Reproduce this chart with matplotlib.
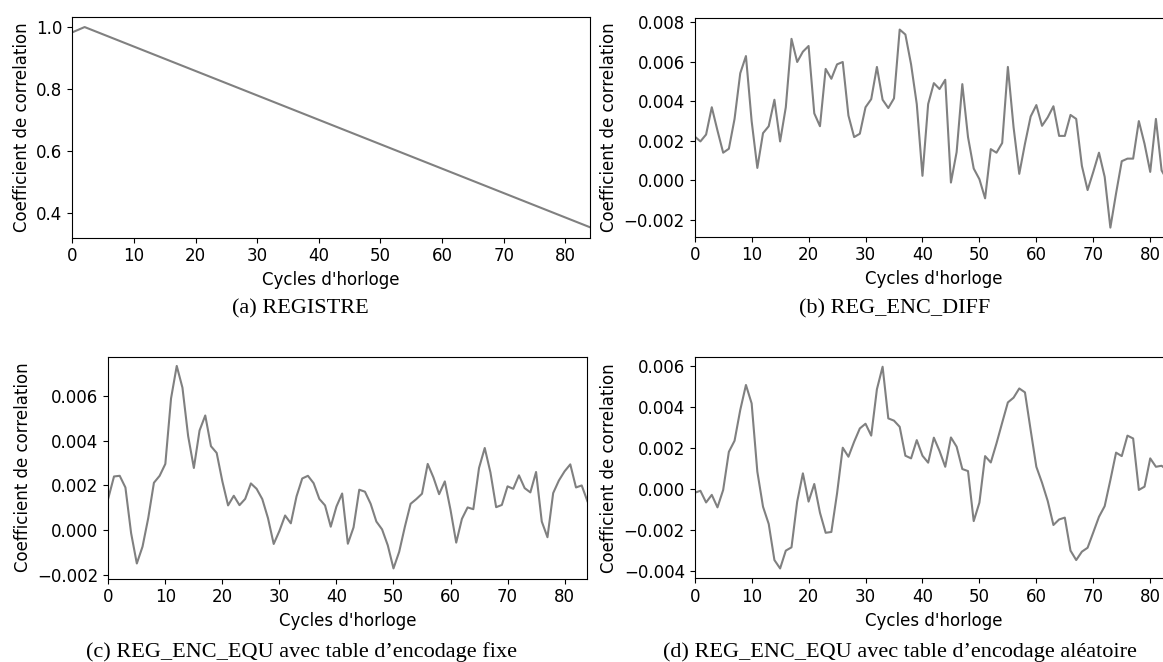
import matplotlib
matplotlib.use("Agg")
import matplotlib.pyplot as plt

plt.rcParams['font.family'] = 'DejaVu Sans'

# ---------------- data ----------------
cycles_a = [0, 2, 84]
corr_a = [0.983, 1.0, 0.355]

corr_b = [0.00222, 0.00197, 0.00232, 0.0037, 0.00252, 0.0014, 0.0016, 0.00311, 0.00542, 0.00629,
          0.0030, 0.00063, 0.00239, 0.00274, 0.00408, 0.00197, 0.0037, 0.00716, 0.00599, 0.00651,
          0.0068, 0.00339, 0.00274, 0.00564, 0.00514, 0.00587, 0.00599, 0.00328, 0.00219, 0.00236,
          0.0037, 0.00411, 0.00574, 0.00408, 0.00366, 0.00415, 0.00763, 0.00738, 0.00587, 0.00386,
          0.00023, 0.00386, 0.00492, 0.00462, 0.00509, -0.00011, 0.00143, 0.00487, 0.00219, 0.0006,
          0.00006, -0.00091, 0.00158, 0.0014, 0.00189, 0.00574, 0.00269, 0.00033, 0.00185, 0.00323,
          0.00381, 0.00276, 0.00319, 0.00375, 0.00225, 0.00225, 0.00331, 0.00311, 0.00073, -0.00049,
          0.00043, 0.0014, 0.00018, -0.00239, -0.00066, 0.00097, 0.0011, 0.0011, 0.0030, 0.00185,
          0.00043, 0.00311, 0.0005, 0.0000, 0.0008]

corr_c = [0.00143, 0.0024, 0.00243, 0.00191, -0.00013, -0.00148, -0.00073, 0.00054, 0.00212, 0.00243,
          0.00296, 0.00588, 0.00733, 0.00636, 0.0042, 0.00278, 0.00445, 0.00512, 0.00375, 0.00345,
          0.00218, 0.00111, 0.00154, 0.00112, 0.0014, 0.00209, 0.00185, 0.00139, 0.00054, -0.00061,
          -0.00003, 0.00066, 0.00031, 0.00151, 0.00231, 0.00243, 0.0021, 0.0014, 0.00111, 0.00016,
          0.00106, 0.00164, -0.0006, 0.00013, 0.00181, 0.00172, 0.00118, 0.00039, 0.00004, -0.00067,
          -0.0017, -0.00096, 0.00016, 0.00118, 0.00139, 0.00163, 0.00296, 0.00236, 0.00161, 0.00218,
          0.00091, -0.00055, 0.00051, 0.00102, 0.00094, 0.00278, 0.00367, 0.00258, 0.00103, 0.00113,
          0.00196, 0.00185, 0.00245, 0.00188, 0.00169, 0.0026, 0.00039, -0.00031, 0.00166, 0.00222,
          0.00263, 0.00294, 0.00191, 0.0020, 0.0013]

corr_d = [-0.0002, -0.0001, -0.00067, -0.0003, -0.00091, -0.00006, 0.0018, 0.00234, 0.00384, 0.00506,
          0.00416, 0.00083, -0.00088, -0.00172, -0.00348, -0.00389, -0.00302, -0.00286, -0.00063, 0.00075,
          -0.00063, 0.00023, -0.00117, -0.00215, -0.00211, -0.00023, 0.0020, 0.00156, 0.00229, 0.00294,
          0.00317, 0.00259, 0.00485, 0.00595, 0.00343, 0.00332, 0.00302, 0.00161, 0.00148, 0.00237,
          0.00161, 0.00127, 0.00249, 0.00184, 0.00107, 0.0025, 0.00205, 0.00096, 0.00086, -0.00158,
          -0.00068, 0.00159, 0.00128, 0.00221, 0.00322, 0.00421, 0.00444, 0.00489, 0.0047, 0.00286,
          0.00107, 0.00029, -0.0006, -0.00177, -0.0015, -0.00141, -0.00302, -0.00348, -0.00307, -0.00288,
          -0.00213, -0.00137, -0.00085, 0.00042, 0.00176, 0.00159, 0.00259, 0.00245, -0.00006, 0.0001,
          0.00148, 0.00107, 0.00112, 0.0009, 0.0012]

xlabel = "Cycles d'horloge"
ylabel = "Coefficient de correlation"
captions = ["(a) REGISTRE", "(b) REG_ENC_DIFF",
            "(c) REG_ENC_EQU avec table d\u2019encodage fixe",
            "(d) REG_ENC_EQU avec table d\u2019encodage al\u00e9atoire"]

# ---------------- layout ----------------
W, H = 1163, 662
fig = plt.figure(figsize=(W / 100, H / 100), dpi=100)

def ax_at(l, r, t, b):
    return fig.add_axes([l / W, 1 - b / H, (r - l) / W, (b - t) / H])

panels = [
    (ax_at(72.3, 590, 16.5, 237.5), cycles_a, corr_a, (0.322, 1.034), [0.4, 0.6, 0.8, 1.0], "{:.1f}"),
    (ax_at(694.7, 1173, 18.3, 236.7), list(range(len(corr_b))), corr_b, (-0.00285, 0.0082),
     [-0.002, 0.0, 0.002, 0.004, 0.006, 0.008], "{:.3f}"),
    (ax_at(108.3, 587.4, 356.5, 578.5), list(range(len(corr_c))), corr_c, (-0.00215, 0.00775),
     [-0.002, 0.0, 0.002, 0.004, 0.006], "{:.3f}"),
    (ax_at(694.7, 1173, 357.3, 578.3), list(range(len(corr_d))), corr_d, (-0.00437, 0.00641),
     [-0.004, -0.002, 0.0, 0.002, 0.004, 0.006], "{:.3f}"),
]

for ax, x, y, ylim, yt, fmt in panels:
    ax.plot(x, y, color='grey', linewidth=1.5)
    ax.set_xlim(0, 84)
    ax.set_ylim(*ylim)
    ax.set_xticks(range(0, 81, 10))
    ax.set_yticks(yt)
    ax.set_yticklabels([fmt.format(v).replace('-', '\u2212') for v in yt])
    ax.tick_params(labelsize=12)
    ax.set_xlabel(xlabel, fontsize=12)
    ax.set_ylabel(ylabel, fontsize=12)

cap_pos = [(300, 309), (895, 309), (302, 652), (900, 652)]
for (cx, cy), cap in zip(cap_pos, captions):
    fig.text(cx / W, 1 - cy / H, cap, ha='center', va='center',
             fontsize=16, family='Liberation Serif')

fig.savefig("out.png", dpi=100)
